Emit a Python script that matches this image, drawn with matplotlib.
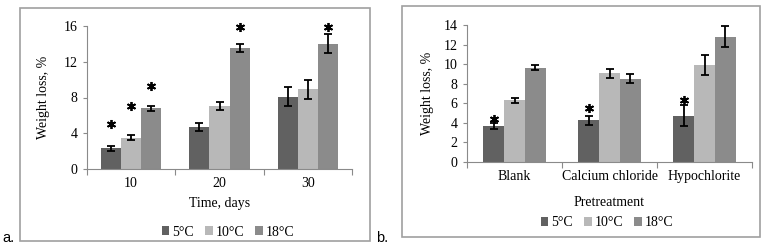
import numpy as np
import matplotlib
matplotlib.use('Agg')
import matplotlib.pyplot as plt
from matplotlib.patches import Rectangle

# panel a data
days = ['10', '20', '30']
a_5 = [2.3, 4.7, 8.1]
a_10 = [3.5, 7.1, 8.9]
a_18 = [6.8, 13.5, 14.0]
a_5_err = [0.3, 0.5, 1.05]
a_10_err = [0.3, 0.45, 1.1]
a_18_err = [0.3, 0.45, 1.05]
# stars: (group, series, y)
a_stars = [(0, 0, 5.0), (0, 1, 7.1), (0, 2, 9.3), (1, 2, 15.9), (2, 2, 15.9)]

# panel b data
treatments = ['Blank', 'Calcium chloride', 'Hypochlorite']
b_5 = [3.7, 4.25, 4.75]
b_10 = [6.3, 9.05, 9.9]
b_18 = [9.65, 8.5, 12.8]
b_5_err = [0.3, 0.5, 1.05]
b_10_err = [0.25, 0.45, 1.0]
b_18_err = [0.25, 0.45, 1.05]
b_stars = [(0, 0, 4.4), (1, 0, 5.5), (2, 0, 6.35)]

labels = ['5°C', '10°C', '18°C']
colors = ['#616161', '#b8b8b8', '#8b8b8b']
axis_col = '#8a8a8a'

plt.rcParams['font.family'] = ['Liberation Serif', 'DejaVu Serif']
plt.rcParams['font.size'] = 10

W, H = 776, 252
fig = plt.figure(figsize=(W / 100, H / 100), dpi=100)


def px_axes(l, t, r, b):
    return fig.add_axes([l / W, 1 - b / H, (r - l) / W, (b - t) / H])


def draw(ax, cats, series, errs, stars, ymax, ystep, bw, xlabel, box, xlab_y, ylab_x):
    x = np.arange(len(cats)) + 0.5
    for i, (vals, err) in enumerate(zip(series, errs)):
        ax.bar(x + (i - 1) * bw, vals, bw, color=colors[i], label=labels[i])
        ax.errorbar(x + (i - 1) * bw, vals, yerr=err, fmt='none', ecolor='black',
                    elinewidth=1.3, capsize=3, capthick=1.3)
    for g, s, y in stars:
        ax.plot(x[g] + (s - 1) * bw, y, marker=(6, 2, 0), color='black',
                markersize=6.5, markeredgewidth=1.3, linestyle='none', clip_on=False)
    ax.set_xlim(0, len(cats))
    ax.set_ylim(0, ymax)
    ax.set_yticks(np.arange(0, ymax + 0.1, ystep))
    ax.set_xticks(np.arange(len(cats) + 1))
    ax.set_xticklabels([])
    ax.set_xticks(x, minor=True)
    ax.set_xticklabels(cats, minor=True)
    ax.tick_params(axis='x', which='major', length=4, color=axis_col, direction='out')
    ax.tick_params(axis='x', which='minor', length=0, pad=6)
    ax.tick_params(axis='y', length=3, color=axis_col, direction='out', pad=4)
    for sp in ['top', 'right']:
        ax.spines[sp].set_visible(False)
    for sp in ['left', 'bottom']:
        ax.spines[sp].set_color(axis_col)
    l, t, r, b = box
    ax.set_ylabel('Weight loss, %', va='center')
    ax.yaxis.set_label_coords(-(l - ylab_x) / (r - l), 0.5)
    ax.set_xlabel(xlabel, va='center')
    ax.xaxis.set_label_coords(0.5, -(xlab_y - b) / (b - t))


def legend(ax, cx, cy):
    ax.legend(loc='center', bbox_to_anchor=(cx / W, 1 - cy / H), bbox_transform=fig.transFigure,
              ncol=3, frameon=False, handlelength=0.55, handleheight=0.55, handletextpad=0.2,
              columnspacing=0.8, borderaxespad=0)


# panel a
box_a = (87, 26, 352, 169)
axa = px_axes(*box_a)
draw(axa, days, [a_5, a_10, a_18], [a_5_err, a_10_err, a_18_err], a_stars,
     16, 4, 0.227, 'Time, days', box_a, 204, 44)
legend(axa, 228, 232)

# panel b
box_b = (467, 25, 752, 162)
axb = px_axes(*box_b)
draw(axb, treatments, [b_5, b_10, b_18], [b_5_err, b_10_err, b_18_err], b_stars,
     14, 2, 0.22, 'Pretreatment', box_b, 202, 428)
legend(axb, 607, 223)

# frames around panels
for l, t, r, b in [(20, 8, 370, 241), (402, 6, 760, 237)]:
    fig.add_artist(Rectangle((l / W, 1 - b / H), (r - l) / W, (b - t) / H,
                             transform=fig.transFigure, fill=False,
                             edgecolor='#a0a0a0', linewidth=1.2))

fig.text(2 / W, 1 - 238 / H, 'a.', family='Liberation Sans', fontsize=10.5, va='center')
fig.text(376 / W, 1 - 238 / H, 'b.', family='Liberation Sans', fontsize=10.5, va='center')

fig.savefig('out.png', dpi=100)
